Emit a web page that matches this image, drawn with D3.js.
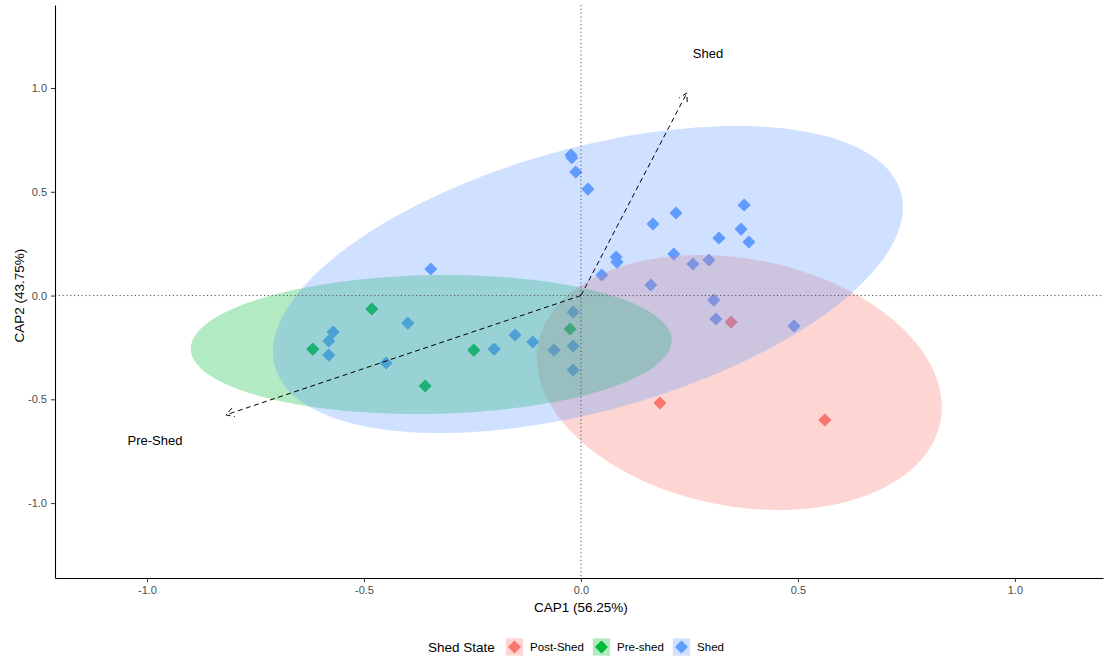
<!DOCTYPE html>
<html>
<head>
<meta charset="utf-8">
<script src="https://cdn.jsdelivr.net/npm/d3@7"></script>
<style>
  body { margin: 0; background: #fff; }
  text { font-family: "Liberation Sans", Arial, sans-serif; }
</style>
</head>
<body>
<svg id="chart" width="1105" height="659"></svg>
<script>
// Groups, in drawing order
const groups = ["Post-Shed", "Pre-shed", "Shed"];
const groupColors = ["#F8766D", "#00BA38", "#619CFF"];

// Site scores on the two constrained axes
const postShedX = [0.346, 0.182, 0.562];
const postShedY = [-0.128, -0.518, -0.600];

const preShedX = [-0.482, -0.618, -0.359, -0.247, -0.025];
const preShedY = [-0.065, -0.258, -0.436, -0.263, -0.161];

const shedX = [-0.023, -0.021, -0.012, 0.016, -0.346, 0.166, 0.219, 0.376, 0.369, 0.387,
               0.318, 0.214, 0.081, 0.083, 0.048, 0.258, 0.295, 0.161, 0.306, 0.311,
               0.491, -0.018, -0.018, -0.018, -0.062, -0.111, -0.152, -0.200, -0.399,
               -0.449, -0.571, -0.581, -0.581];
const shedY = [0.677, 0.664, 0.595, 0.513, 0.128, 0.345, 0.398, 0.436, 0.320, 0.258,
               0.277, 0.200, 0.186, 0.161, 0.099, 0.152, 0.171, 0.051, -0.022, -0.113,
               -0.147, -0.080, -0.243, -0.359, -0.263, -0.224, -0.190, -0.258, -0.133,
               -0.325, -0.176, -0.219, -0.287];

// 95% confidence ellipses: centre and shape matrix per group
const ellipseCx  = [0.365, -0.345, 0.0161];
const ellipseCy  = [-0.419, -0.236, 0.0771];
const ellipseSxx = [0.2177, 0.3071, 0.5268];
const ellipseSyy = [0.3776, 0.1122, 0.5473];
const ellipseSxy = [-0.0555, 0.0111, 0.2528];

// Biplot arrows for the constraining factor
const arrowNames = ["Pre-Shed", "Shed"];
const arrowX = [-0.818, 0.244];
const arrowY = [-0.575, 0.976];
const labelScale = 1.2;

// Axes
const xTickValues = [-1, -0.5, 0, 0.5, 1];
const xTickLabels = ["-1.0", "-0.5", "0.0", "0.5", "1.0"];
const yTickValues = [-1, -0.5, 0, 0.5, 1];
const yTickLabels = ["-1.0", "-0.5", "0.0", "0.5", "1.0"];
const xTitle = "CAP1 (56.25%)";
const yTitle = "CAP2 (43.75%)";
const legendTitle = "Shed State";

const seriesX = [postShedX, preShedX, shedX];
const seriesY = [postShedY, preShedY, shedY];

(function draw() {
  const svg = d3.select("#chart");
  const pLeft = 55, pRight = 1103, pTop = 5, pBottom = 578;

  const x = d3.scaleLinear().domain([-1.212, 1.203]).range([pLeft, pRight]);
  const y = d3.scaleLinear().domain([-1.361, 1.400]).range([pBottom, pTop]);

  const plot = svg.append("g");

  // Points (drawn first, the translucent ellipses sit on top of them)
  const diamond = d3.symbol().type(d3.symbolSquare).size(60);
  const styleDiamond = (sel, col) => sel.attr("fill", col).attr("stroke", col)
    .attr("stroke-width", 1.6).attr("stroke-linejoin", "round");
  groups.forEach((g, i) => {
    const pts = seriesX[i].map((v, j) => [v, seriesY[i][j]]);
    plot.append("g").selectAll("path").data(pts).join("path")
      .attr("d", diamond)
      .attr("transform", d => `translate(${x(d[0])},${y(d[1])}) rotate(45)`)
      .call(styleDiamond, groupColors[i]);
  });

  // Ellipses
  const ts = d3.range(0, 2 * Math.PI, Math.PI / 90);
  const line = d3.line().x(d => x(d[0])).y(d => y(d[1])).curve(d3.curveLinearClosed);
  groups.forEach((g, i) => {
    const a = Math.sqrt(ellipseSxx[i]);
    const b = ellipseSxy[i] / a;
    const c = Math.sqrt(ellipseSyy[i] - b * b);
    const pts = ts.map(t => [ellipseCx[i] + a * Math.cos(t),
                             ellipseCy[i] + b * Math.cos(t) + c * Math.sin(t)]);
    plot.append("path").attr("d", line(pts))
      .attr("fill", groupColors[i]).attr("fill-opacity", 0.3).attr("stroke", "none");
  });

  // Zero reference lines
  plot.append("line").attr("x1", pLeft).attr("x2", pRight).attr("y1", y(0)).attr("y2", y(0))
    .attr("stroke", "#555").attr("stroke-width", 1).attr("stroke-dasharray", "1.2,2.6");
  plot.append("line").attr("x1", x(0)).attr("x2", x(0)).attr("y1", pTop).attr("y2", pBottom)
    .attr("stroke", "#555").attr("stroke-width", 1).attr("stroke-dasharray", "1.2,2.6");

  // Arrows with open heads
  arrowNames.forEach((name, i) => {
    const x0 = x(0), y0 = y(0), x1 = x(arrowX[i]), y1 = y(arrowY[i]);
    const ang = Math.atan2(y1 - y0, x1 - x0);
    const hl = 9, ha = Math.PI / 6;
    const p1 = [x1 - hl * Math.cos(ang - ha), y1 - hl * Math.sin(ang - ha)];
    const p2 = [x1 - hl * Math.cos(ang + ha), y1 - hl * Math.sin(ang + ha)];
    plot.append("path")
      .attr("d", `M${x0},${y0}L${x1},${y1}M${p1[0]},${p1[1]}L${x1},${y1}L${p2[0]},${p2[1]}`)
      .attr("fill", "none").attr("stroke", "#000").attr("stroke-width", 1)
      .attr("stroke-dasharray", "5,3.5");
    plot.append("text")
      .attr("x", x(arrowX[i] * labelScale)).attr("y", y(arrowY[i] * labelScale) + 1.5)
      .attr("text-anchor", "middle").attr("dominant-baseline", "central")
      .attr("font-size", 13).attr("fill", "#000").text(name);
  });

  // Axes
  const xAxis = d3.axisBottom(x).tickValues(xTickValues)
    .tickFormat((d, i) => xTickLabels[i]).tickSize(4).tickSizeOuter(0).tickPadding(4);
  const yAxis = d3.axisLeft(y).tickValues(yTickValues)
    .tickFormat((d, i) => yTickLabels[i]).tickSize(4).tickSizeOuter(0).tickPadding(4);

  const gx = svg.append("g").attr("transform", `translate(0,${pBottom})`).call(xAxis);
  const gy = svg.append("g").attr("transform", `translate(${pLeft},0)`).call(yAxis);
  [gx, gy].forEach(g => {
    g.select(".domain").attr("stroke", "#000").attr("stroke-width", 1.1);
    g.selectAll(".tick line").attr("stroke", "#333").attr("stroke-width", 1);
    g.selectAll(".tick text").attr("fill", "#4D4D4D").attr("font-size", 11)
      .style("font-family", '"Liberation Sans", Arial, sans-serif');
  });

  svg.append("text").attr("x", x(0)).attr("y", 612).attr("text-anchor", "middle")
    .attr("font-size", 13.5).attr("fill", "#000").text(xTitle);
  svg.append("text").attr("transform", `translate(24,${y(0)}) rotate(-90)`)
    .attr("text-anchor", "middle").attr("font-size", 13.5).attr("fill", "#000").text(yTitle);

  // Legend
  const legend = svg.append("g");
  const ly = 647;
  const title = legend.append("text").attr("x", 428).attr("y", ly)
    .attr("dominant-baseline", "central").attr("font-size", 13.5).attr("fill", "#000")
    .text(legendTitle);
  let kx = 428 + title.node().getComputedTextLength() + 11;
  const keySize = 17.3;
  groups.forEach((g, i) => {
    legend.append("rect").attr("x", kx).attr("y", ly - keySize / 2)
      .attr("width", keySize).attr("height", keySize)
      .attr("fill", groupColors[i]).attr("fill-opacity", 0.3);
    legend.append("path").attr("d", diamond)
      .attr("transform", `translate(${kx + keySize / 2},${ly}) rotate(45)`)
      .call(styleDiamond, groupColors[i]);
    const t = legend.append("text").attr("x", kx + keySize + 7).attr("y", ly)
      .attr("dominant-baseline", "central").attr("font-size", 11.5).attr("fill", "#000")
      .text(g);
    kx += keySize + 7 + t.node().getComputedTextLength() + 9;
  });
})();
</script>
</body>
</html>
